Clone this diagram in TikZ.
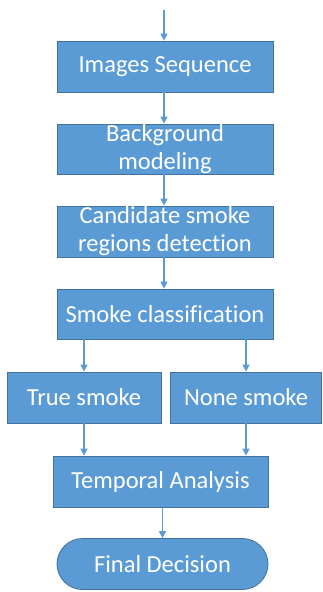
\documentclass[tikz,border=0pt]{standalone}
\usepackage{fontspec}
\setmainfont{Carlito}[Ligatures=NoCommon]
\usetikzlibrary{arrows.meta}
\definecolor{boxfill}{HTML}{5B9BD5}
\definecolor{boxline}{HTML}{41719C}
\tikzset{
  box/.style={draw=boxline, line width=0.8pt, fill=boxfill, text=white, inner sep=0pt,
    minimum height=51pt, align=center, font=\fontsize{24.5}{28}\selectfont},
  stadium/.style={box, rounded corners=25.5pt},
  arr/.style={draw=boxfill, line width=1.4pt, -{Triangle[width=7pt,length=7pt]}}
}
\begin{document}
\begin{tikzpicture}[x=1pt,y=1pt]
\useasboundingbox (0,0) rectangle (322,-592);
\coordinate (start) at (164,-10);
\node[box, minimum width=216pt] (b1) at (165,-66.5) {Images Sequence};
\node[box, minimum width=216pt, minimum height=50pt] (b2) at (165,-149) {Background\\modeling};
\node[box, minimum width=216pt] (b3) at (165,-231.5) {Candidate smoke\\regions detection};
\node[box, minimum width=216pt, minimum height=50pt] (b4) at (165,-314) {Smoke classification};
\node[box, minimum width=154pt] (b5) at (84,-397.5) {True smoke};
\node[box, minimum width=151pt] (b6) at (246,-397.5) {None smoke};
\node[box, minimum width=215pt] (b7) at (160.5,-481.5) {Temporal Analysis};
\node[stadium, minimum width=211pt] (b8) at (162.5,-564) {Final Decision};
\draw[arr] (start) -- (start |- b1.north);
\draw[arr] (b1.south -| start) -- (start |- b2.north);
\draw[arr] (b2.south -| start) -- (start |- b3.north);
\draw[arr] (b3.south -| start) -- (start |- b4.north);
\draw[arr] (b4.south -| b5) -- (b5.north);
\draw[arr] (b4.south -| b6) -- (b6.north);
\draw[arr] (b5.south) -- (b5.south |- b7.north);
\draw[arr] (b6.south) -- (b6.south |- b7.north);
\draw[arr] (b7.south -| b8) -- (b8.north);
\end{tikzpicture}
\end{document}
